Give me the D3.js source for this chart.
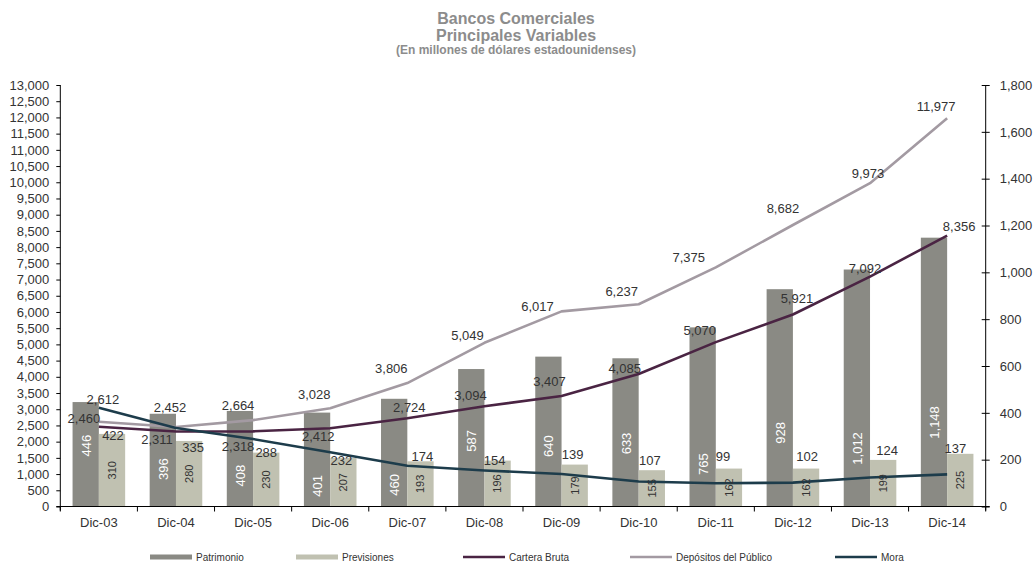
<!DOCTYPE html>
<html>
<head>
<meta charset="utf-8">
<script src="https://cdn.jsdelivr.net/npm/d3@7"></script>
<style>
  html, body { margin: 0; padding: 0; background: #fff; }
  svg { display: block; font-family: "Liberation Sans", Arial, sans-serif; }
</style>
</head>
<body>
<svg id="chart" width="1036" height="565"></svg>
<script>
// ---- Data (millones de US$) ----
const categories   = ["Dic-03","Dic-04","Dic-05","Dic-06","Dic-07","Dic-08","Dic-09","Dic-10","Dic-11","Dic-12","Dic-13","Dic-14"];
const patrimonio   = [446, 396, 408, 401, 460, 587, 640, 633, 765, 928, 1012, 1148];
const previsiones  = [310, 280, 230, 207, 193, 196, 179, 155, 162, 162, 199, 225];
const carteraBruta = [2460, 2311, 2318, 2412, 2724, 3094, 3407, 4085, 5070, 5921, 7092, 8356];
const depositos    = [2612, 2452, 2664, 3028, 3806, 5049, 6017, 6237, 7375, 8682, 9973, 11977];
const mora         = [422, 335, 288, 232, 174, 154, 139, 107, 99, 102, 124, 137];
const leftTicks    = d3.range(0, 13001, 500);
const rightTicks   = d3.range(0, 1801, 200);

// ---- Label placement (nudges in px from each mark's anchor) ----
const patLabelAt  = [260, 160, 132, 88, 92, 280, 258, 269, 181, 314, 248, 359]; // right-axis units
const depNudge  = [[4,-22],[-6,-20],[-15,-15],[-16,-14],[-16,-15],[-17,-7],[-24,-5],[-17,-13],[-27,-10],[-10,-17],[-2,-10],[-11,-12]];
const cartNudge = [[-15,-8],[-19,8],[-15,15],[-12,8],[2,-11],[-14,-11],[-12,-15],[-14,-6],[-16,-12],[4,-16],[-5,-8],[12,-9]];
const moraNudge = [[1,2],[4,7],[0,0],[-2,2],[2,-5],[-3,0],[-2,-10],[-2,-10],[-6,-12],[1,-12],[4,-9],[-5,-5]];

const colors = {
  patrimonio: "#8a8a84",
  previsiones: "#c0c1b1",
  cartera: "#4a2443",
  depositos: "#a39aa2",
  mora: "#1d3c4b",
  text: "#333333",
  title: "#8c8c8c"
};

const svg = d3.select("#chart");
const plot = { left: 60.3, right: 985.7, top: 85, bottom: 506.5 };

const x = d3.scaleBand().domain(categories).range([plot.left, plot.right]).paddingInner(0).paddingOuter(0);
const yL = d3.scaleLinear().domain([0, 13000]).range([plot.bottom, plot.top]);
const yR = d3.scaleLinear().domain([0, 1800]).range([plot.bottom, plot.top]);
const fmt = d3.format(",");
const cx = c => x(c) + x.bandwidth() / 2;
const barW = x.bandwidth() * 0.341;

// ---- Title ----
const title = svg.append("g").attr("fill", colors.title).attr("font-weight", "bold").attr("text-anchor", "middle");
title.append("text").attr("x", 516).attr("y", 24).attr("font-size", 16).text("Bancos Comerciales");
title.append("text").attr("x", 516).attr("y", 40.5).attr("font-size", 16).text("Principales Variables");
title.append("text").attr("x", 516).attr("y", 53.5).attr("font-size", 12).text("(En millones de dólares estadounidenses)");

// ---- Bars (right axis) ----
const bars = svg.append("g");
bars.selectAll("rect.pat").data(categories).join("rect")
  .attr("class", "pat")
  .attr("x", c => cx(c) - barW)
  .attr("width", barW)
  .attr("y", (c, i) => yR(patrimonio[i]))
  .attr("height", (c, i) => yR(0) - yR(patrimonio[i]))
  .attr("fill", colors.patrimonio);
bars.selectAll("rect.prev").data(categories).join("rect")
  .attr("class", "prev")
  .attr("x", c => cx(c))
  .attr("width", barW)
  .attr("y", (c, i) => yR(previsiones[i]))
  .attr("height", (c, i) => yR(0) - yR(previsiones[i]))
  .attr("fill", colors.previsiones);

// ---- Lines ----
function drawLine(values, scale, color) {
  const line = d3.line().x((d, i) => cx(categories[i])).y(d => scale(d));
  svg.append("path").datum(values)
    .attr("d", line).attr("fill", "none")
    .attr("stroke", color).attr("stroke-width", 2.6)
    .attr("stroke-linejoin", "round").attr("stroke-linecap", "butt");
}
drawLine(depositos, yL, colors.depositos);
drawLine(carteraBruta, yL, colors.cartera);
drawLine(mora, yR, colors.mora);

// ---- Axes ----
const left = svg.append("g").attr("transform", `translate(${plot.left},0)`)
  .call(d3.axisLeft(yL).tickValues(leftTicks).tickFormat(fmt).tickSizeOuter(0).tickSize(4).tickPadding(7));
const right = svg.append("g").attr("transform", `translate(${plot.right},0)`)
  .call(d3.axisRight(yR).tickValues(rightTicks).tickFormat(fmt).tickSizeOuter(0).tickSize(4).tickPadding(10));
right.selectAll(".tick line").attr("x1", -4);
const bottom = svg.append("g").attr("transform", `translate(0,${plot.bottom})`)
  .call(d3.axisBottom(x).tickSize(0).tickPadding(11));
const bounds = categories.map(c => x(c)).concat([plot.right]);
bottom.selectAll("line.bound").data(bounds).join("line")
  .attr("class", "bound")
  .attr("x1", d => d).attr("x2", d => d).attr("y1", 0).attr("y2", 5)
  .attr("stroke", "#000");
bottom.select(".domain").attr("d", `M${plot.left - 4},0H${plot.right + 4}`);

[left, right, bottom].forEach(g => {
  g.selectAll("text").attr("font-size", 13).attr("fill", colors.text)
    .attr("font-family", '"Liberation Sans", Arial, sans-serif');
  g.select(".domain").attr("stroke", "#000");
  g.selectAll(".tick line").attr("stroke", "#000");
});
left.select(".domain").attr("d", `M0,${plot.top}V${plot.bottom + 4}`);
right.select(".domain").attr("d", `M0,${plot.top}V${plot.bottom + 4}`);

// ---- Value labels ----
const labels = svg.append("g").attr("font-size", 13).attr("text-anchor", "middle").attr("fill", colors.text);

// Patrimonio: white, rotated, inside bar
labels.selectAll("text.patl").data(categories).join("text")
  .attr("class", "patl")
  .attr("transform", (c, i) => `translate(${cx(c) - barW / 2 + 0.5},${yR(patLabelAt[i])}) rotate(-90)`)
  .attr("dy", "0.35em")
  .attr("fill", "#ffffff")
  .text((c, i) => fmt(patrimonio[i]));

// Previsiones: dark, rotated, centred in bar
labels.selectAll("text.prevl").data(categories).join("text")
  .attr("class", "prevl")
  .attr("transform", (c, i) => `translate(${cx(c) + barW / 2},${yR(previsiones[i] / 2)}) rotate(-90)`)
  .attr("dy", "0.35em")
  .attr("font-size", 11)
  .text((c, i) => fmt(previsiones[i]));

// Depósitos
labels.selectAll("text.depl").data(categories).join("text")
  .attr("class", "depl")
  .attr("x", (c, i) => cx(c) + depNudge[i][0])
  .attr("y", (c, i) => yL(depositos[i]) + depNudge[i][1])
  .attr("dy", "0.35em")
  .text((c, i) => fmt(depositos[i]));

// Cartera Bruta
labels.selectAll("text.cartl").data(categories).join("text")
  .attr("class", "cartl")
  .attr("x", (c, i) => cx(c) + cartNudge[i][0])
  .attr("y", (c, i) => yL(carteraBruta[i]) + cartNudge[i][1])
  .attr("dy", "0.35em")
  .text((c, i) => fmt(carteraBruta[i]));

// Mora: sits on top of the Previsiones bar
labels.selectAll("text.moral").data(categories).join("text")
  .attr("class", "moral")
  .attr("x", (c, i) => cx(c) + barW / 2 + moraNudge[i][0])
  .attr("y", (c, i) => yR(previsiones[i]) + moraNudge[i][1])
  .attr("dy", "0.35em")
  .text((c, i) => fmt(mora[i]));

// ---- Legend ----
const legendItems = [
  { name: "Patrimonio", kind: "bar", color: colors.patrimonio, x: 150 },
  { name: "Previsiones", kind: "bar", color: colors.previsiones, x: 296 },
  { name: "Cartera Bruta", kind: "line", color: colors.cartera, x: 463 },
  { name: "Depósitos del Público", kind: "line", color: colors.depositos, x: 630 },
  { name: "Mora", kind: "line", color: colors.mora, x: 835 }
];
const legend = svg.append("g").attr("transform", "translate(0,557)");
const li = legend.selectAll("g").data(legendItems).join("g").attr("transform", d => `translate(${d.x},0)`);
li.filter(d => d.kind === "bar").append("rect")
  .attr("x", 0).attr("y", -2.5).attr("width", 42).attr("height", 5).attr("fill", d => d.color);
li.filter(d => d.kind === "line").append("line")
  .attr("x1", 0).attr("x2", 42).attr("y1", 0).attr("y2", 0)
  .attr("stroke", d => d.color).attr("stroke-width", 2.6);
li.append("text").attr("x", 46).attr("dy", "0.35em").attr("font-size", 10).attr("fill", colors.text)
  .text(d => d.name);
</script>
</body>
</html>
